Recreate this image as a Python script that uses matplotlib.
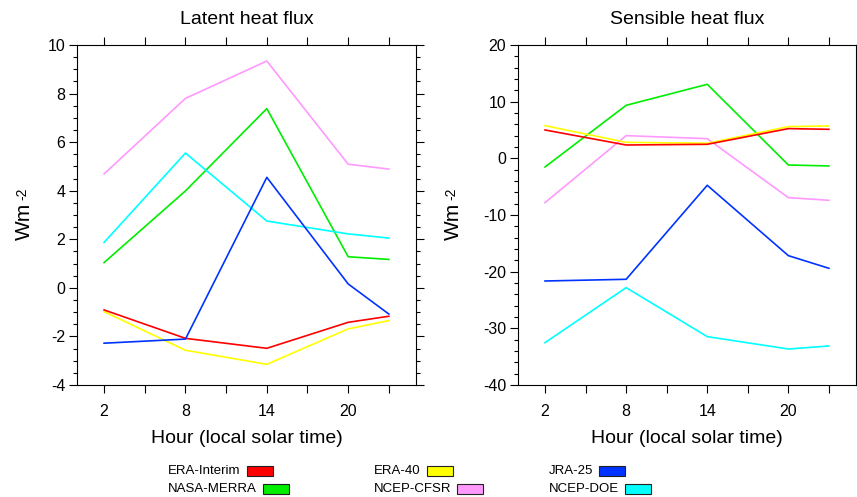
import matplotlib
matplotlib.use("Agg")
import matplotlib.pyplot as plt
from matplotlib.patches import Rectangle
from matplotlib.ticker import MultipleLocator, FixedLocator

plt.rcParams['font.family'] = ['Liberation Sans', 'DejaVu Sans']
plt.rcParams['axes.unicode_minus'] = False

hours = [2, 8, 14, 20, 23]
names = ["ERA-Interim", "NASA-MERRA", "ERA-40", "NCEP-CFSR", "JRA-25", "NCEP-DOE"]
colors = ["#ff0000", "#00ee00", "#ffff00", "#ff99ff", "#0033ff", "#00ffff"]

# latent heat flux (W m-2)
latent = {
    "ERA-Interim": [-0.91, -2.08, -2.49, -1.42, -1.17],
    "NASA-MERRA": [1.04, 3.99, 7.38, 1.28, 1.17],
    "ERA-40": [-0.98, -2.57, -3.15, -1.69, -1.35],
    "NCEP-CFSR": [4.69, 7.80, 9.34, 5.09, 4.89],
    "JRA-25": [-2.28, -2.11, 4.55, 0.16, -1.08],
    "NCEP-DOE": [1.87, 5.55, 2.75, 2.22, 2.05],
}
# sensible heat flux (W m-2)
sensible = {
    "ERA-Interim": [5.0, 2.35, 2.47, 5.24, 5.12],
    "NASA-MERRA": [-1.53, 9.35, 13.06, -1.18, -1.35],
    "ERA-40": [5.76, 2.82, 2.65, 5.59, 5.71],
    "NCEP-CFSR": [-7.82, 4.0, 3.47, -6.94, -7.41],
    "JRA-25": [-21.65, -21.35, -4.76, -17.18, -19.41],
    "NCEP-DOE": [-32.53, -22.82, -31.47, -33.65, -33.12],
}
# draw order as in the figure
order = ["NCEP-CFSR", "NASA-MERRA", "NCEP-DOE", "ERA-40", "ERA-Interim", "JRA-25"]

fig = plt.figure(figsize=(8.57, 4.97), dpi=100)
ax1 = fig.add_axes([0.0898, 0.2254, 0.3956, 0.6841])
ax2 = fig.add_axes([0.6044, 0.2254, 0.3944, 0.6841])

def style_axis(ax, data, title, ylim, ymaj, ymin, ylab_x):
    for name in order:
        ax.plot(hours, data[name], color=colors[names.index(name)], lw=1.2)
    ax.set_xlim(0, 25)
    ax.set_ylim(*ylim)
    ax.xaxis.set_major_locator(FixedLocator([2, 5, 8, 11, 14, 17, 20, 23]))
    ax.set_xticklabels(["2", "", "8", "", "14", "", "20", ""])
    ax.yaxis.set_major_locator(MultipleLocator(ymaj))
    ax.yaxis.set_minor_locator(MultipleLocator(ymin))
    ax.tick_params(which="both", direction="out", top=True, right=True, labelsize=11.5, width=0.8)
    ax.tick_params(which="major", length=6, pad=2.5)
    ax.tick_params(axis="x", which="major", pad=7.5)
    ax.tick_params(which="minor", length=3)
    ax.set_title(title, fontsize=14, pad=15)
    ax.set_xlabel("Hour (local solar time)", fontsize=14, labelpad=8)
    # y label "Wm" with a raised "-2"
    t = ax.text(ylab_x, 0.48, "Wm", rotation=90, fontsize=15, ha="center", va="center",
                transform=ax.transAxes)
    fig.canvas.draw()
    bb = t.get_window_extent().transformed(ax.transAxes.inverted())
    ax.text(bb.x0 + 0.002, bb.y1 + 0.008, "-2", rotation=90, fontsize=10, ha="left", va="bottom",
            transform=ax.transAxes)
    for s in ax.spines.values():
        s.set_linewidth(0.8)

style_axis(ax1, latent, "Latent heat flux", (-4, 10), 2, 0.5, -0.156)
style_axis(ax2, sensible, "Sensible heat flux", (-40, 20), 10, 2, -0.192)

# legend: text followed by a coloured box, 3 columns x 2 rows
col_x = [168 / 857, 374 / 857, 549 / 857]
row_y = [1 - 471 / 497, 1 - 489 / 497]
for i, name in enumerate(names):
    c, r = i // 2, i % 2
    t = fig.text(col_x[c], row_y[r], name, fontsize=9.5, va="center", ha="left")
    fig.canvas.draw()
    bb = t.get_window_extent().transformed(fig.transFigure.inverted())
    fig.add_artist(Rectangle((bb.x1 + 6 / 857, row_y[r] - 5 / 497), 26 / 857, 10 / 497,
                             transform=fig.transFigure, facecolor=colors[i],
                             edgecolor="#222222", lw=0.8))

fig.savefig("out.png", dpi=100)
